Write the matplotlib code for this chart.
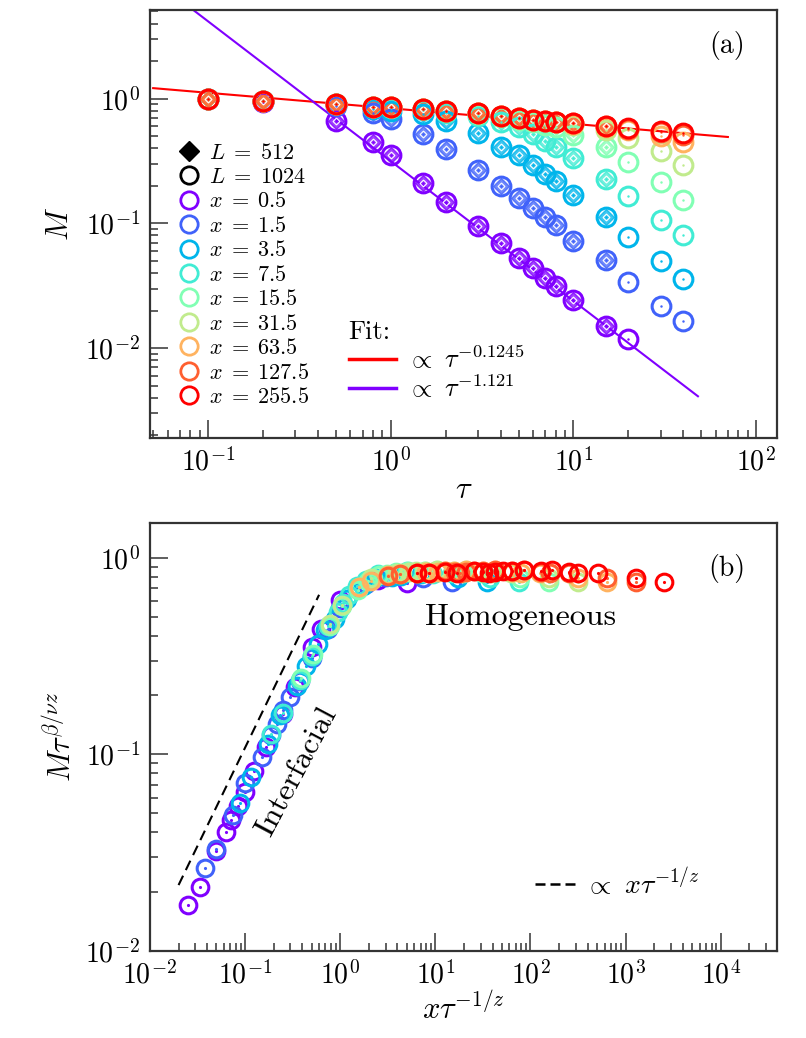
import numpy as np
import matplotlib
matplotlib.use('Agg')
import matplotlib.pyplot as plt
from matplotlib.lines import Line2D
from matplotlib.ticker import LogLocator, NullFormatter

plt.rcParams['mathtext.fontset'] = 'cm'
plt.rcParams['font.family'] = 'serif'
plt.rcParams['font.serif'] = ['cmr10', 'DejaVu Serif']
plt.rcParams['axes.formatter.use_mathtext'] = True

# --- data ---------------------------------------------------------------
tau = [0.1, 0.2, 0.5, 0.8, 1, 1.5, 2, 3, 4, 5, 6, 7, 8, 10, 15, 20, 30, 40]
xs = [0.5, 1.5, 3.5, 7.5, 15.5, 31.5, 63.5, 127.5, 255.5]
nan = np.nan

# L = 1024 (circles), one list per x
M_1024 = {
    0.5:   [0.99, 0.94, 0.667, 0.445, 0.35, 0.209, 0.147, 0.0945, 0.069, 0.0524,
            0.0437, 0.0364, 0.0312, 0.0242, 0.0150, 0.0118, nan, nan],
    1.5:   [1.0, 0.96, 0.87, 0.76, 0.69, 0.525, 0.398, 0.270, 0.198, 0.161,
            0.134, 0.112, 0.0963, 0.0725, 0.051, 0.0337, 0.0217, 0.0166],
    3.5:   [1.0, 0.96, 0.90, 0.83, 0.80, 0.75, 0.66, 0.535, 0.413, 0.35,
            0.291, 0.247, 0.217, 0.168, 0.113, 0.078, 0.050, 0.0358],
    7.5:   [1.0, 0.96, 0.91, 0.85, 0.84, 0.81, 0.77, 0.72, 0.65, 0.59,
            0.52, 0.46, 0.41, 0.337, 0.225, 0.165, 0.106, 0.080],
    15.5:  [1.0, 0.96, 0.91, 0.86, 0.85, 0.82, 0.79, 0.75, 0.71, 0.68,
            0.65, 0.62, 0.59, 0.515, 0.406, 0.31, 0.213, 0.155],
    31.5:  [1.0, 0.96, 0.91, 0.86, 0.85, 0.82, 0.79, 0.76, 0.72, 0.70,
            0.68, 0.66, 0.645, 0.615, 0.56, 0.487, 0.377, 0.291],
    63.5:  [1.0, 0.96, 0.91, 0.86, 0.85, 0.82, 0.79, 0.76, 0.72, 0.70,
            0.68, 0.66, 0.65, 0.63, 0.59, 0.565, 0.50, 0.45],
    127.5: [1.0, 0.96, 0.91, 0.86, 0.85, 0.82, 0.79, 0.76, 0.72, 0.70,
            0.68, 0.66, 0.65, 0.64, 0.60, 0.575, 0.54, 0.51],
    255.5: [1.0, 0.96, 0.91, 0.86, 0.85, 0.82, 0.79, 0.76, 0.72, 0.70,
            0.68, 0.66, 0.65, 0.64, 0.60, 0.58, 0.55, 0.53],
}
# L = 512 (diamonds): tau up to 15, x up to 127.5, on top of the L=1024 points
tau_512 = tau[:15]
M_512 = {x: M_1024[x][:15] for x in xs[:8]}

# fits shown in panel (a)
fit_red = (0.836, -0.1245, 0.05, 70)     # amplitude, exponent, tau range
fit_purple = (0.315, -1.121, 0.05, 48)

# scaling exponents for the collapse in panel (b)
inv_z = 1.0
beta_nu_z = 0.1245

colors = plt.cm.rainbow(np.linspace(0, 1, len(xs)))
frame = '#333333'

fig = plt.figure(figsize=(8.06, 10.38), dpi=100)
ax1 = fig.add_axes([0.186, 0.578, 0.778, 0.412])
ax2 = fig.add_axes([0.186, 0.084, 0.778, 0.412])

# --- panel (a) ----------------------------------------------------------
for x, c in zip(xs[:8], colors[:8]):
    ax1.plot(tau_512, M_512[x], 'D', ms=8.5, mfc=c, mec=c, alpha=0.75, zorder=3)
    ax1.plot(tau_512, M_512[x], 'D', ms=3.5, mfc='none', mec='white', mew=0.8, zorder=3)
for x, c in zip(xs, colors):
    ax1.plot(tau, M_1024[x], 'o', ms=13.5, mfc='none', mec=c, mew=2.2, zorder=4)
    ax1.plot(tau, M_1024[x], '.', ms=1.5, color=c, zorder=4)

for (A, p, t0, t1), c in [(fit_red, 'red'), (fit_purple, colors[0])]:
    t = np.logspace(np.log10(t0), np.log10(t1), 50)
    ax1.plot(t, A * t ** p, '-', color=c, lw=1.5, zorder=2)

ax1.set_xscale('log')
ax1.set_yscale('log')
ax1.set_xlim(0.048, 130)
ax1.set_ylim(0.0019, 5.1)
ax1.set_xlabel(r'$\tau$', fontsize=22, labelpad=0)
ax1.set_ylabel(r'$M$', fontsize=22, labelpad=8)
ax1.text(0.92, 0.918, '(a)', transform=ax1.transAxes, fontsize=20,
         ha='center', va='center')

h1 = [Line2D([], [], ls='none', marker='D', ms=10, color='black'),
      Line2D([], [], ls='none', marker='o', ms=12.5, mfc='none', mec='black', mew=2)]
l1 = [r'$L\;=\;512$', r'$L\;=\;1024$']
for x, c in zip(xs, colors):
    h1.append(Line2D([], [], ls='none', marker='o', ms=12.5, mfc='none', mec=c, mew=2))
    l1.append(r'$x\;=\;%s$' % x)
leg1 = ax1.legend(h1, l1, loc='upper left', bbox_to_anchor=(0.044, 0.69), frameon=False,
                  fontsize=16, handlelength=1.0, handletextpad=0.4, labelspacing=0.2,
                  borderaxespad=0.0, borderpad=0.0)
ax1.add_artist(leg1)

h2 = [Line2D([], [], color='red', lw=2.5), Line2D([], [], color=colors[0], lw=2.5)]
l2 = [r'$\propto\ \tau^{-0.1245}$', r'$\propto\ \tau^{-1.121}$']
leg2 = ax1.legend(h2, l2, loc='lower left', bbox_to_anchor=(0.3, 0.06), frameon=False,
                  fontsize=19, title='Fit:', title_fontsize=19, handlelength=1.8,
                  handletextpad=0.4, labelspacing=0.05, borderaxespad=0.0)
leg2._legend_box.align = 'left'

# --- panel (b) ----------------------------------------------------------
for x, c in zip(xs, colors):
    t = np.array(tau)
    m = np.array(M_1024[x])
    u = x * t ** (-inv_z)
    v = m * t ** beta_nu_z
    ax2.plot(u, v, 'o', ms=12, mfc='none', mec=c, mew=2.2, zorder=4)
    ax2.plot(u, v, '.', ms=2.5, color=c, zorder=4)

guide_x = np.array([0.02, 0.6])
ax2.plot(guide_x, 1.08 * guide_x, color='black', lw=1.5, dashes=(5, 3), zorder=2)

ax2.set_xscale('log')
ax2.set_yscale('log')
ax2.set_xlim(0.01, 3.9e4)
ax2.set_ylim(0.01, 1.5)
ax2.set_xlabel(r'$x\tau^{-1/z}$', fontsize=22, labelpad=2)
ax2.set_ylabel(r'$M\tau^{\beta/\nu z}$', fontsize=22, labelpad=6)
ax2.text(0.92, 0.895, '(b)', transform=ax2.transAxes, fontsize=20,
         ha='center', va='center')
ax2.text(78, 0.5, 'Homogeneous', fontsize=23, ha='center', va='center')
ax2.text(0.35, 0.082, 'Interfacial', fontsize=23, ha='center', va='center',
         rotation=62)
ax2.legend([Line2D([], [], color='black', lw=1.8, dashes=(4, 2))],
           [r'$\propto\ x\tau^{-1/z}$'], loc='lower right',
           bbox_to_anchor=(0.877, 0.12), frameon=False, fontsize=20,
           handlelength=1.5, handletextpad=0.3, borderaxespad=0.0, borderpad=0.0)

for ax in (ax1, ax2):
    for s in ax.spines.values():
        s.set_linewidth(1.6)
        s.set_color(frame)
    ax.xaxis.set_major_locator(LogLocator(base=10, numticks=20))
    ax.yaxis.set_major_locator(LogLocator(base=10, numticks=20))
    ax.xaxis.set_minor_locator(LogLocator(base=10, subs=np.arange(2, 10), numticks=20))
    ax.yaxis.set_minor_locator(LogLocator(base=10, subs=np.arange(2, 10), numticks=20))
    ax.xaxis.set_minor_formatter(NullFormatter())
    ax.yaxis.set_minor_formatter(NullFormatter())
    ax.tick_params(which='both', direction='in', top=False, right=False,
                   color=frame, labelsize=20)
    ax.tick_params(which='major', length=13, width=1.1, pad=7)
    ax.tick_params(which='minor', length=6, width=1.1)

fig.savefig('out.png', dpi=100)
